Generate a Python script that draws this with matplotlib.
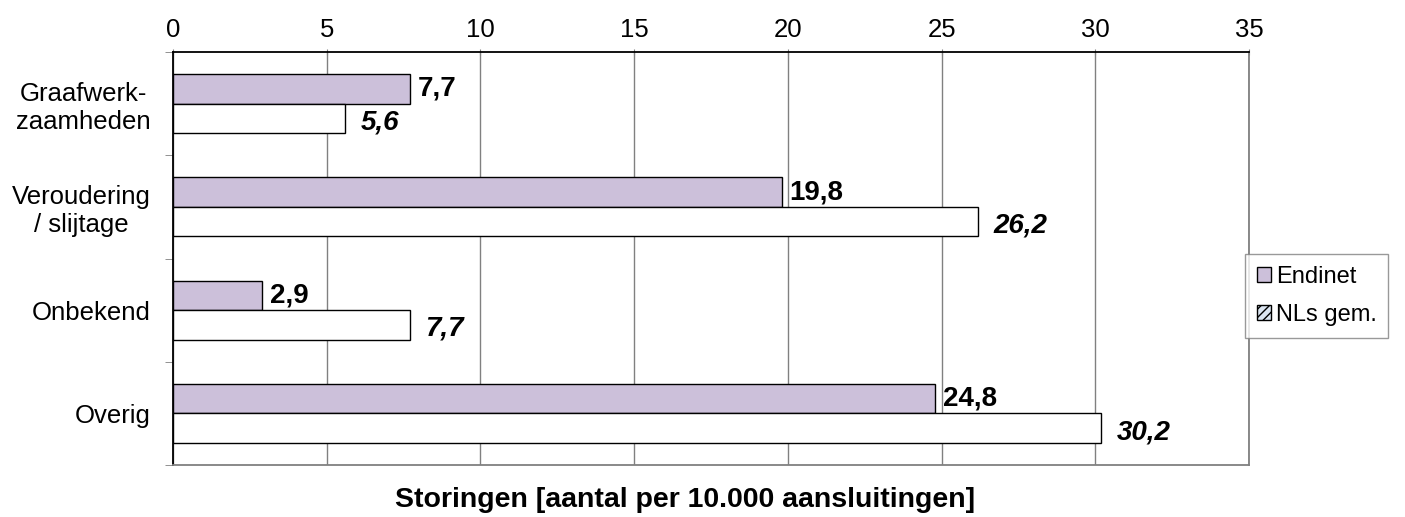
import numpy as np
import matplotlib.pyplot as plt
from matplotlib.patches import Patch

plt.rcParams['font.family'] = ['Liberation Sans', 'DejaVu Sans']

categories = ['Graafwerk-\nzaamheden', 'Veroudering\n/ slijtage', 'Onbekend', 'Overig']
endinet = [7.7, 19.8, 2.9, 24.8]
nls_gem = [5.6, 26.2, 7.7, 30.2]
endinet_labels = ['7,7', '19,8', '2,9', '24,8']
nls_labels = ['5,6', '26,2', '7,7', '30,2']

fig = plt.figure(figsize=(14.05, 5.17), dpi=100)
ax = fig.add_axes([173/1405, 1 - 465/517, (1249-173)/1405, (465-52)/517])

y = np.arange(len(categories))
h = 0.285
ax.barh(y - h/2, endinet, height=h, color='#ccc0da', edgecolor='black', linewidth=1, zorder=3)
ax.barh(y + h/2, nls_gem, height=h, color='white', edgecolor='black', linewidth=1, zorder=3)

for i in range(len(categories)):
    ax.text(endinet[i] + 0.25, y[i] - h/2, endinet_labels[i], va='center', ha='left',
            fontsize=20, fontweight='bold')
    ax.text(nls_gem[i] + 0.5, y[i] + h/2 + 0.04, nls_labels[i], va='center', ha='left',
            fontsize=20, fontweight='bold', style='italic')

ax.set_xlim(0, 35)
ax.set_ylim(len(categories) - 0.5, -0.5)
ax.set_xticks(np.arange(0, 36, 5))
ax.xaxis.tick_top()
ax.tick_params(axis='x', labelsize=18.5, length=5, color='#808080', direction='inout', pad=5)
ax.set_yticks(y)
ax.set_yticklabels(categories, fontsize=18.5, multialignment='center')
ax.tick_params(axis='y', which='major', length=0, pad=16)
ax.set_yticks(np.arange(-0.5, len(categories)), minor=True)
ax.tick_params(axis='y', which='minor', length=6, color='#808080')
ax.xaxis.grid(True, color='#808080', linewidth=1, zorder=0)

for s in ['top', 'left']:
    ax.spines[s].set_color('black')
    ax.spines[s].set_linewidth(1.3)
for s in ['right', 'bottom']:
    ax.spines[s].set_color('#808080')
    ax.spines[s].set_linewidth(1.3)

handles = [Patch(facecolor='#ccc0da', edgecolor='black', label='Endinet'),
           Patch(facecolor='#dce6f2', edgecolor='black', hatch='////', label='NLs gem.')]
fig.legend(handles=handles, loc='center left', bbox_to_anchor=(1245/1405, 1 - 296/517),
           fontsize=17, frameon=True, fancybox=False, edgecolor='#808080',
           handlelength=0.6, handleheight=0.6, handletextpad=0.2, labelspacing=0.7,
           borderpad=0.5, borderaxespad=0)

fig.text(685/1405, 1 - 500/517, 'Storingen [aantal per 10.000 aansluitingen]',
         ha='center', va='center', fontsize=20.5, fontweight='bold')

fig.savefig('out.png', dpi=100)
